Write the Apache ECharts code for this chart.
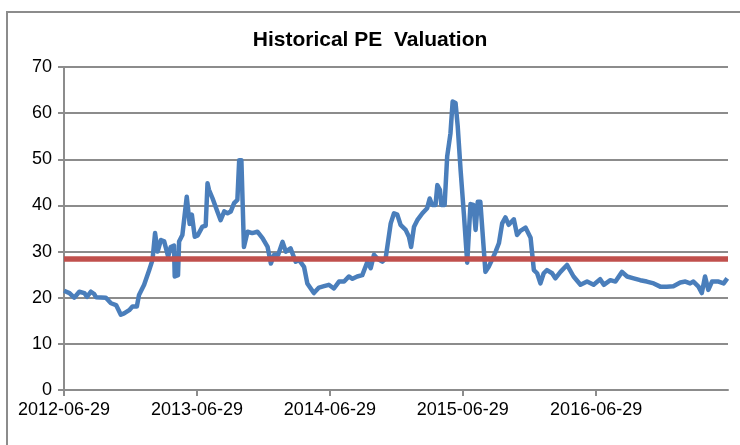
<!DOCTYPE html>
<html><head><meta charset="utf-8">
<script src="https://cdn.jsdelivr.net/npm/echarts@6/dist/echarts.min.js"></script>
<style>html,body{margin:0;padding:0;background:#fff}#c{width:740px;height:445px}</style>
</head><body><div id="c"></div>
<script>
const dates = [
'2012-06-29','2012-07-14','2012-07-27','2012-08-10','2012-08-24','2012-08-31','2012-09-11','2012-09-20','2012-09-25','2012-10-22',
'2012-11-05','2012-11-19','2012-12-02','2012-12-11','2012-12-25','2013-01-03','2013-01-15','2013-01-21','2013-02-04','2013-02-18',
'2013-02-27','2013-03-06','2013-03-13','2013-03-22','2013-03-31','2013-04-11','2013-04-18','2013-04-27','2013-04-29','2013-05-08',
'2013-05-11','2013-05-20','2013-06-01','2013-06-09','2013-06-15','2013-06-23','2013-07-01','2013-07-14','2013-07-23','2013-07-28',
'2013-08-01','2013-08-11','2013-08-24','2013-09-02','2013-09-12','2013-09-21','2013-09-30','2013-10-09','2013-10-18','2013-10-23',
'2013-10-29','2013-11-05','2013-11-15','2013-11-28','2013-12-12','2013-12-26','2014-01-09','2014-01-18','2014-01-27','2014-02-07',
'2014-02-19','2014-02-28','2014-03-13','2014-03-27','2014-04-05','2014-04-19','2014-04-28','2014-05-16','2014-05-30','2014-06-13',
'2014-06-26','2014-07-10','2014-07-24','2014-08-07','2014-08-20','2014-08-30','2014-09-12','2014-09-26','2014-10-10','2014-10-19',
'2014-10-28','2014-11-06','2014-11-20','2014-11-29','2014-12-13','2014-12-22','2014-12-31','2015-01-09','2015-01-23','2015-02-01',
'2015-02-07','2015-02-15','2015-02-24','2015-03-10','2015-03-23','2015-03-30','2015-04-06','2015-04-15','2015-04-20','2015-04-27',
'2015-05-01','2015-05-10','2015-05-17','2015-05-26','2015-06-01','2015-06-09','2015-06-15','2015-06-23','2015-07-02','2015-07-11',
'2015-07-20','2015-07-28','2015-08-03','2015-08-09','2015-08-16','2015-08-30','2015-09-08','2015-09-17','2015-09-27','2015-10-06',
'2015-10-15','2015-10-24','2015-11-02','2015-11-16','2015-11-25','2015-12-04','2015-12-18','2016-01-01','2016-01-10','2016-01-19',
'2016-01-28','2016-02-06','2016-02-15','2016-02-29','2016-03-09','2016-03-23','2016-04-10','2016-04-28','2016-05-17','2016-06-04',
'2016-06-22','2016-07-10','2016-07-20','2016-08-07','2016-08-21','2016-09-08','2016-09-22','2016-10-10','2016-10-28','2016-11-15',
'2016-12-04','2016-12-22','2017-01-09','2017-01-27','2017-02-15','2017-03-01','2017-03-14','2017-03-23','2017-04-06','2017-04-15',
'2017-04-24','2017-05-03','2017-05-13','2017-05-31','2017-06-14','2017-06-24'
];
const peValues = [
21.5,21.0,20.0,21.3,21.0,20.2,21.3,20.8,20.1,20.0,
18.8,18.4,16.3,16.6,17.3,18.1,18.1,20.6,22.8,26.0,
28.2,34.0,30.0,32.5,32.2,28.9,31.0,31.3,24.6,24.9,
32.2,33.6,41.9,36.0,38.0,33.2,33.5,35.4,35.6,44.8,
43.4,41.5,38.7,36.8,38.7,38.3,38.7,40.5,41.2,49.8,
49.8,31.0,34.3,34.0,34.3,32.9,31.0,27.4,29.3,29.3,
32.1,30.0,30.7,27.8,28.2,26.7,23.1,21.0,22.2,22.5,
22.8,22.0,23.5,23.5,24.6,24.1,24.6,24.9,27.8,26.4,
29.3,28.5,27.8,28.5,36.1,38.3,38.0,35.8,34.7,33.2,
31.0,35.4,36.8,38.3,39.4,41.5,40.1,40.1,44.4,43.4,
40.1,40.1,50.6,55.6,62.5,62.2,57.1,47.5,38.0,27.6,
40.3,40.1,34.7,40.8,40.8,25.6,26.7,28.2,30.0,31.8,
36.1,37.4,35.8,37.0,33.6,34.5,35.2,33.0,26.0,25.3,
23.1,25.3,26.0,25.3,24.2,25.6,27.1,24.6,22.8,23.5,
22.8,24.0,22.8,23.8,23.5,25.6,24.6,24.2,23.8,23.5,
23.1,22.4,22.4,22.5,23.3,23.5,23.1,23.5,22.4,21.0,
24.6,21.7,23.5,23.5,23.1,24.2
];
const averagePE = 28.5;
const xTickLabels = ['2012-06-29','2013-06-29','2014-06-29','2015-06-29','2016-06-29'];
const xMin = '2012-06-29';
const xMax = '2017-06-26';
const yTicks = [0,10,20,30,40,50,60,70];

function ts(s){const p=s.split('-');return Date.UTC(+p[0],+p[1]-1,+p[2]);}
function fmt(v){const d=new Date(v);const p=n=>String(n).padStart(2,'0');
  return d.getUTCFullYear()+'-'+p(d.getUTCMonth()+1)+'-'+p(d.getUTCDate());}
const tickTs = xTickLabels.map(ts);
const seriesData = dates.map((d,i)=>[ts(d), peValues[i]]);

const chart = echarts.init(document.getElementById('c'), null, {renderer:'canvas'});
const gray = '#8c8c8c';
chart.setOption({
  animation:false,
  backgroundColor:'#fff',
  title:{text:'Historical PE  Valuation',left:'center',top:25,
    textStyle:{fontFamily:'Liberation Sans',fontWeight:'bold',fontSize:21,color:'#000'}},
  graphic:[{type:'rect',shape:{x:7,y:12,width:745,height:445},
    style:{fill:'none',stroke:gray,lineWidth:2},silent:true}],
  grid:{left:64,right:12,top:67,bottom:55,containLabel:false},
  xAxis:{type:'value',min:ts(xMin),max:ts(xMax),
    axisLine:{show:true,lineStyle:{color:gray,width:2}},
    axisTick:{show:true,customValues:tickTs,length:6,lineStyle:{color:gray,width:2}},
    axisLabel:{customValues:tickTs,margin:11,color:'#000',fontFamily:'Liberation Sans',fontSize:18,
      formatter:v=>fmt(v),hideOverlap:false,showMinLabel:true,showMaxLabel:true},
    splitLine:{show:false}},
  yAxis:{type:'value',min:yTicks[0],max:yTicks[yTicks.length-1],interval:10,
    axisLine:{show:true,lineStyle:{color:gray,width:2}},
    axisTick:{show:true,length:6,lineStyle:{color:gray,width:2}},
    axisLabel:{color:'#000',fontFamily:'Liberation Sans',fontSize:18,margin:12},
    splitLine:{show:true,lineStyle:{color:gray,width:2}}},
  series:[
    {type:'line',data:seriesData,showSymbol:false,symbol:'none',
      lineStyle:{color:'#4a7ebb',width:4.5,join:'round'},z:2,
      markLine:{silent:true,symbol:'none',label:{show:false},
        lineStyle:{color:'#c0504d',width:5.5,type:'solid'},
        data:[{yAxis:averagePE}]}}
  ]
});
</script></body></html>
